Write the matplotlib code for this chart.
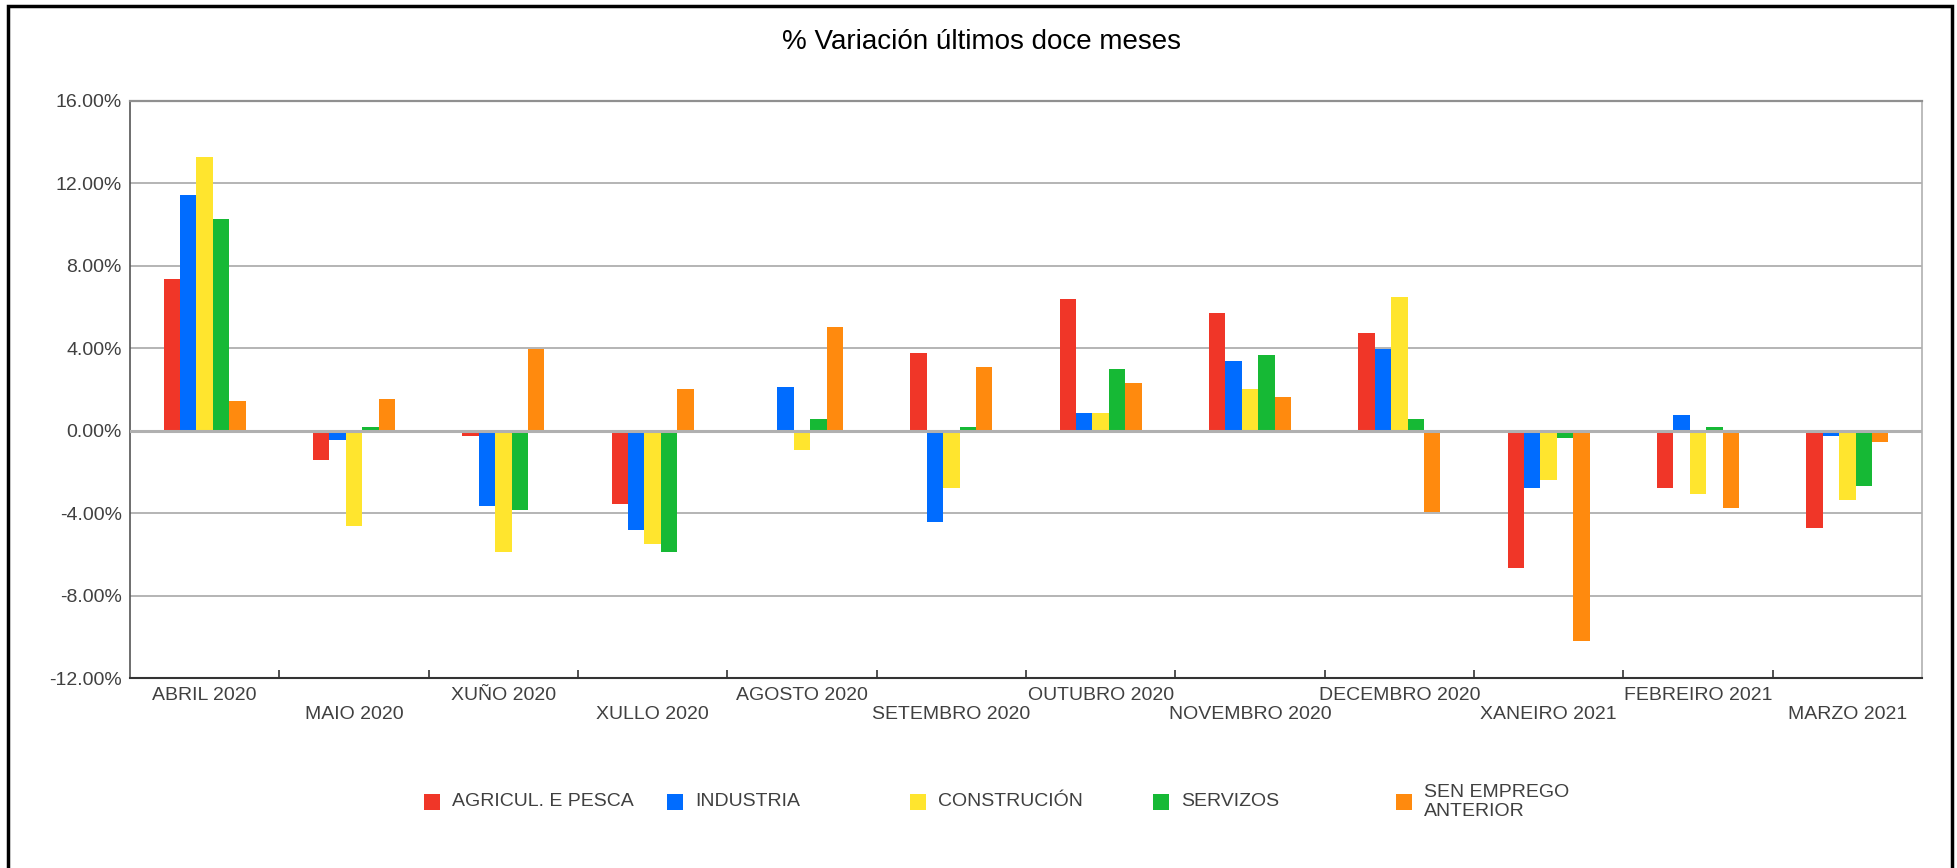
import numpy as np
import matplotlib.pyplot as plt
from matplotlib.patches import Rectangle
from matplotlib.ticker import FuncFormatter, FixedLocator

plt.rcParams['font.family'] = ['Liberation Sans', 'DejaVu Sans']
plt.rcParams['axes.unicode_minus'] = False

months = ['ABRIL 2020', 'MAIO 2020', 'XUÑO 2020', 'XULLO 2020', 'AGOSTO 2020',
          'SETEMBRO 2020', 'OUTUBRO 2020', 'NOVEMBRO 2020', 'DECEMBRO 2020',
          'XANEIRO 2021', 'FEBREIRO 2021', 'MARZO 2021']
series_names = ['AGRICUL. E PESCA', 'INDUSTRIA', 'CONSTRUCIÓN', 'SERVIZOS',
                'SEN EMPREGO\nANTERIOR']

agricultura = [7.35, -1.42, -0.24, -3.55, -0.05, 3.76, 6.38, 5.70, 4.73, -6.66, -2.78, -4.72]
industria = [11.42, -0.45, -3.65, -4.81, 2.12, -4.43, 0.86, 3.38, 3.97, -2.78, 0.76, -0.26]
construcion = [13.26, -4.60, -5.88, -5.49, -0.94, -2.78, 0.86, 2.02, 6.48, -2.39, -3.07, -3.36]
servizos = [10.26, 0.18, -3.84, -5.88, 0.57, 0.18, 2.99, 3.67, 0.57, -0.36, 0.18, -2.68]
sen_emprego = [1.44, 1.53, 3.97, 2.02, 5.02, 3.09, 2.31, 1.63, -3.94, -10.18, -3.75, -0.55]

colors = ['#f03628', '#006cff', '#ffe52e', '#16b935', '#ff8a0e']
all_series = [agricultura, industria, construcion, servizos, sen_emprego]

W, H = 1958, 868
fig = plt.figure(figsize=(W / 100, H / 100), dpi=100)
ax = fig.add_axes([130 / W, 1 - 678.3 / H, (1922 - 130) / W, (678.3 - 100.7) / H])

x = np.arange(len(months))
bw = 0.11
for i, (vals, col) in enumerate(zip(all_series, colors)):
    ax.bar(x + (i - 2) * bw, vals, width=bw, color=col, zorder=2, linewidth=0)

ax.set_xlim(-0.5, len(months) - 0.5)
ax.set_ylim(-12, 16)
ax.set_yticks(np.arange(-12, 17, 4))
ax.yaxis.set_major_formatter(FuncFormatter(lambda v, p: '%.2f%%' % v))
ax.grid(axis='y', color='#a8a8a8', linewidth=1.2, zorder=1)
ax.axhline(0, color='#b0b0b0', linewidth=2.2, zorder=3)

# staggered month labels
labels = [m if k % 2 == 0 else '\n' + m for k, m in enumerate(months)]
ax.set_xticks(x)
ax.set_xticklabels(labels, fontsize=14, color='#404040', linespacing=1.2)
ax.tick_params(axis='x', which='major', length=0, pad=6)
ax.xaxis.set_minor_locator(FixedLocator(np.arange(0.5, len(months) - 1, 1)))
ax.tick_params(axis='x', which='minor', direction='in', length=6, width=1.2, color='#333333')
ax.tick_params(axis='y', length=0, pad=6, labelsize=14, labelcolor='#404040')

ax.spines['bottom'].set_color('#333333')
ax.spines['bottom'].set_linewidth(1.5)
ax.spines['left'].set_color('#555555')
ax.spines['left'].set_linewidth(1.2)
ax.spines['top'].set_color('#909090')
ax.spines['top'].set_linewidth(1.6)
ax.spines['right'].set_color('#b0b0b0')
ax.spines['right'].set_linewidth(1.2)

fig.text(981 / W, 1 - 42 / H, '% Variación últimos doce meses', fontsize=20,
         ha='center', va='center', color='black')

# legend, evenly spaced entries
for i, (name, col) in enumerate(zip(series_names, colors)):
    lx = 424 + i * 243
    fig.patches.append(Rectangle((lx / W, 1 - 810 / H), 16 / W, 16 / H,
                                 transform=fig.transFigure, facecolor=col,
                                 edgecolor='none'))
    fig.text((lx + 28) / W, 1 - 802 / H, name, fontsize=14, color='#404040',
             ha='left', va='center', linespacing=1.1)

# outer frame (bottom edge falls outside the picture)
fig.patches.append(Rectangle((8.5 / W, -0.05), (1952 - 8.5) / W, 1.05 - 5.5 / H,
                             transform=fig.transFigure, facecolor='none',
                             edgecolor='black', linewidth=2.5))

fig.savefig('out.png', dpi=100)
